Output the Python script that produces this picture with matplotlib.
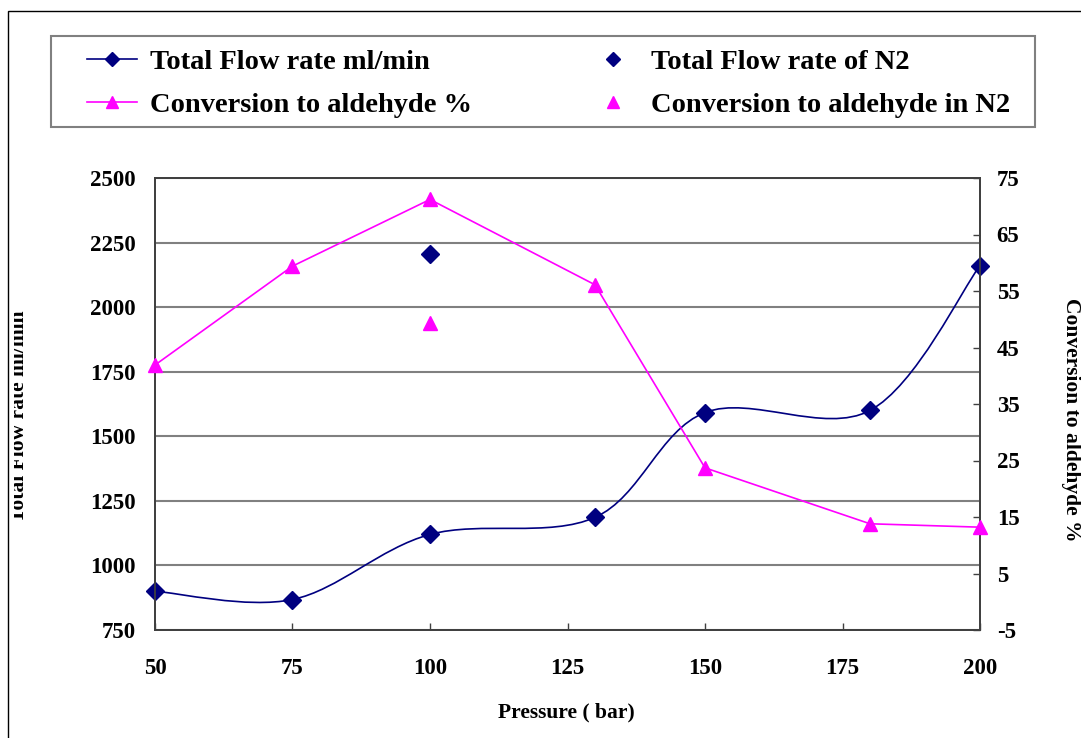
import numpy as np
import matplotlib
matplotlib.use("Agg")
import matplotlib.pyplot as plt
from matplotlib.path import Path
from matplotlib.patches import PathPatch, Rectangle
from matplotlib.lines import Line2D
from matplotlib.transforms import Bbox, TransformedBbox

# ---------------- data ----------------
pressure = [50, 75, 100, 130, 150, 180, 200]
flow_rate = [900, 868, 1120, 1186, 1592, 1600, 2161]          # ml/min
conversion = [41.9, 59.4, 71.2, 56.1, 23.7, 13.8, 13.2]        # %

n2_pressure = [100]
n2_flow = [2204]
n2_conversion = [49.3]

x_ticks = [50, 75, 100, 125, 150, 175, 200]
left_ticks = [750, 1000, 1250, 1500, 1750, 2000, 2250, 2500]
right_ticks = [-5, 5, 15, 25, 35, 45, 55, 65, 75]

NAVY = "#000080"
MAGENTA = "#FF00FF"
GRID = "#808080"
W, H = 1081, 738

plt.rcParams["font.family"] = ["Liberation Serif", "DejaVu Serif"]
plt.rcParams["font.weight"] = "bold"
plt.rcParams["axes.unicode_minus"] = False

fig = plt.figure(figsize=(W / 100, H / 100), dpi=100)
ax = fig.add_axes([155 / W, 1 - 630 / H, (980 - 155) / W, (630 - 178) / H])
ax2 = ax.twinx()


def smooth_path(xs, ys):
    # excel style smoothed line: cubic bezier through the points
    pts = np.column_stack([xs, ys]).astype(float)
    verts = [pts[0]]
    codes = [Path.MOVETO]
    n = len(pts)
    for i in range(n - 1):
        p0 = pts[max(i - 1, 0)]
        p1 = pts[i]
        p2 = pts[i + 1]
        p3 = pts[min(i + 2, n - 1)]
        verts += [p1 + (p2 - p0) / 6, p2 - (p3 - p1) / 6, p2]
        codes += [Path.CURVE4] * 3
    return Path(verts, codes)


# flow rate, left axis
ax.add_patch(PathPatch(smooth_path(pressure, flow_rate), facecolor="none",
                       edgecolor=NAVY, lw=1.2, zorder=3))
ax.plot(pressure, flow_rate, ls="none", marker="D", ms=9, color=NAVY,
        clip_on=False, zorder=4)
ax.plot(n2_pressure, n2_flow, ls="none", marker="D", ms=9, color=NAVY, zorder=4)

# conversion, right axis
ax2.plot(pressure, conversion, color=MAGENTA, lw=1.2, marker="^", ms=10,
         clip_on=False, zorder=3)
ax2.plot(n2_pressure, n2_conversion, ls="none", marker="^", ms=10,
         color=MAGENTA, zorder=3)

ax.set_xlim(50, 200)
ax.set_ylim(750, 2500)
ax2.set_ylim(-5, 75)
ax.set_xticks(x_ticks)
ax.set_yticks(left_ticks)
ax2.set_yticks(right_ticks)

ax.yaxis.grid(True, color=GRID, lw=1.5)
ax.set_axisbelow(True)
for a in (ax, ax2):
    for s in a.spines.values():
        s.set_color("#404040")
        s.set_linewidth(1.3)

ax.tick_params(axis="y", length=0, pad=14, labelsize=16.5)
ax.tick_params(axis="x", direction="in", length=5, width=1, color="#404040",
               pad=20, labelsize=16.5)
ax2.tick_params(axis="y", direction="in", length=5, width=1, color="#404040",
                pad=12, labelsize=16.5)
for lab in ax.get_xticklabels() + ax.get_yticklabels() + ax2.get_yticklabels():
    lab.set_fontweight("bold")

fig.text(566 / W, 1 - 712 / H, "Pressure ( bar)", ha="center", va="center",
         fontsize=15.5, fontweight="bold")

# axis titles, cut off by the edge of the picture as in the original
clip_l = TransformedBbox(Bbox([[14 / W, 0], [1, 1]]), fig.transFigure)
t1 = fig.text(24 / W, 1 - 416 / H, "Total Flow rate ml/min", rotation=90,
              rotation_mode="anchor", ha="center", va="baseline",
              fontsize=15.5, fontweight="bold")
t1.set_clip_box(clip_l)
t1.set_clip_on(True)
fig.text(1066 / W, 1 - 420 / H, "Conversion to aldehyde %", rotation=-90,
         rotation_mode="anchor", ha="center", va="baseline",
         fontsize=15.5, fontweight="bold")

# outer frame and legend frame
fig.add_artist(Rectangle((8 / W, -0.1), 1.2, 1 - 11 / H + 0.1,
                         transform=fig.transFigure, fill=False,
                         edgecolor="black", lw=1.0))
fig.add_artist(Rectangle((51 / W, 1 - 127 / H), (1035 - 51) / W, (127 - 36) / H,
                         transform=fig.transFigure, fill=False,
                         edgecolor=GRID, lw=1.5))

h_flow = Line2D([], [], color=NAVY, lw=1.2, marker="D", ms=7)
h_conv = Line2D([], [], color=MAGENTA, lw=1.2, marker="^", ms=8)
h_n2f = Line2D([], [], ls="none", color=NAVY, marker="D", ms=7)
h_n2c = Line2D([], [], ls="none", color=MAGENTA, marker="^", ms=8)

leg_kw = dict(loc="upper left", frameon=False, borderpad=0, borderaxespad=0,
              handlelength=1.75, handletextpad=0.45, labelspacing=0.6,
              prop={"family": "Liberation Serif", "weight": "bold", "size": 20.5})
leg1 = fig.legend([h_flow, h_conv], ["Total Flow rate ml/min",
                                     "Conversion to aldehyde %"],
                  bbox_to_anchor=(87 / W, 1 - 49 / H), **leg_kw)
leg2 = fig.legend([h_n2f, h_n2c], ["Total Flow rate of N2",
                                   "Conversion to aldehyde in N2"],
                  bbox_to_anchor=(588 / W, 1 - 49 / H), **leg_kw)

fig.savefig("out.png", dpi=100)
